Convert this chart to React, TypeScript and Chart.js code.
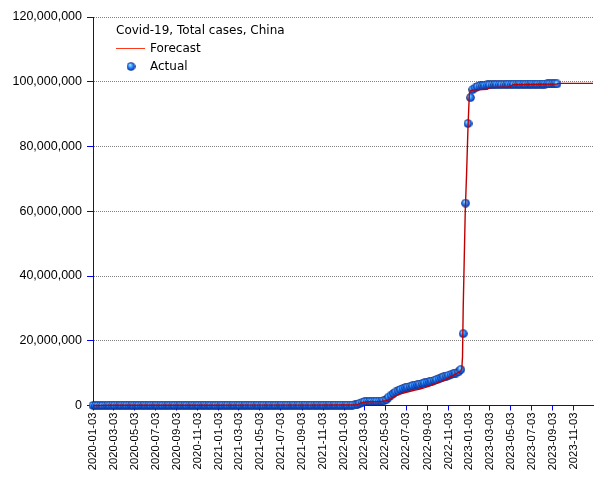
import React, { useEffect, useRef } from 'react';
import { Chart, registerables } from 'chart.js';

Chart.register(...registerables);

// ---------- data ----------
const legendTitle = 'Covid-19, Total cases, China';
const forecastLabel = 'Forecast';
const actualLabel = 'Actual';

const axisStart = '2020-01-03';
const axisEnd = '2023-12-29';

// Actual: weekly observations starting at actualStart
const actualStart = '2020-01-03';
const actualStepDays = 7;
const actualValues = [
  0, 41, 62, 881, 11821, 34598, 66576, 75569, 79394, 80711,
  81021, 81300, 82078, 82802, 83369, 84149, 84311, 84373, 84416, 84484,
  84525, 84547, 84614, 84659, 84735, 84969, 85058, 85314, 85921, 87489,
  88468, 89104, 89446, 89788, 90045, 90323, 90618, 90865, 91151, 91500,
  91773, 92045, 92358, 92685, 93058, 93445, 93834, 94265, 94683, 95120,
  95604, 96062, 96673, 97398, 98256, 99323, 100194, 100836, 101273, 101553,
  101783, 101968, 102161, 102368, 102562, 102770, 102984, 103194, 103388, 103568,
  103804, 104112, 104650, 108950, 111683, 113460, 114637, 115455, 116120, 117150,
  118478, 119611, 120627, 121404, 122075, 122720, 123432, 124201, 124907, 125638,
  126304, 127007, 127792, 128624, 129469, 130358, 131201, 132032, 132913, 133814,
  134772, 135830, 136987, 138231, 139583, 141296, 143658, 146988, 151213, 160000,
  380000, 700000, 980000, 1150000, 1220000, 1260000, 1290000, 1310000, 1330000, 1350000,
  1380000, 1450000, 1800000, 2600000, 3200000, 3750000, 4200000, 4550000, 4950000, 5250000,
  5500000, 5700000, 5900000, 6100000, 6300000, 6450000, 6600000, 6800000, 6950000, 7150000,
  7350000, 7550000, 7750000, 7950000, 8250000, 8550000, 8850000, 9100000, 9350000, 9600000,
  9800000, 10000000, 10400000, 11100000, 22200000, 62500000, 87100000, 95100000, 97600000, 98100000,
  98500000, 98700000, 98800000, 98900000, 99000000, 99050000, 99100000, 99120000, 99140000, 99160000,
  99180000, 99190000, 99200000, 99210000, 99220000, 99230000, 99240000, 99250000, 99255000, 99260000,
  99265000, 99270000, 99275000, 99280000, 99285000, 99290000, 99295000, 99300000, 99305000, 99310000,
  99315000, 99320000, 99325000, 99330000,
];

const forecastDates = [
  '2020-01-03', '2020-01-24', '2020-02-07', '2020-02-21', '2020-03-20', '2020-06-26',
  '2020-09-25', '2020-12-25', '2021-03-26', '2021-06-25', '2021-09-24', '2021-12-24',
  '2022-02-04', '2022-02-11', '2022-02-18', '2022-02-25', '2022-03-04', '2022-03-18',
  '2022-04-22', '2022-05-06', '2022-05-13', '2022-05-20', '2022-05-27', '2022-06-03',
  '2022-06-17', '2022-07-01', '2022-07-15', '2022-07-29', '2022-08-12', '2022-08-26',
  '2022-09-09', '2022-09-23', '2022-10-07', '2022-10-21', '2022-11-04', '2022-11-18',
  '2022-12-02', '2022-12-09', '2022-12-12', '2022-12-14', '2022-12-16', '2022-12-19',
  '2022-12-22', '2022-12-26', '2022-12-30', '2023-01-03', '2023-01-06', '2023-01-13',
  '2023-02-24', '2023-03-03', '2023-04-28', '2023-05-12', '2023-09-15', '2023-09-22',
  '2023-12-29',
];
const forecastValues = [
  0, 900, 30000, 74000, 81000, 84700,
  90600, 96000, 102000, 111000, 122000, 137000,
  155000, 250000, 550000, 850000, 1050000, 1150000,
  1250000, 1450000, 1800000, 2100000, 2600000, 3000000,
  3600000, 4000000, 4400000, 4750000, 5100000, 5500000,
  6000000, 6600000, 7200000, 7700000, 8600000, 9300000,
  10200000, 10600000, 11500000, 15000000, 30000000, 45000000,
  60000000, 72000000, 86000000, 96500000, 97100000, 97400000,
  97700000, 98200000, 98400000, 99100000, 99300000, 99500000,
  99500000,
];

const xTickLabels = [
  '2020-01-03', '2020-03-03', '2020-05-03', '2020-07-03', '2020-09-03', '2020-11-03',
  '2021-01-03', '2021-03-03', '2021-05-03', '2021-07-03', '2021-09-03', '2021-11-03',
  '2022-01-03', '2022-03-03', '2022-05-03', '2022-07-03', '2022-09-03', '2022-11-03',
  '2023-01-03', '2023-03-03', '2023-05-03', '2023-07-03', '2023-09-03', '2023-11-03',
];
const yTickValues = [0, 20000000, 40000000, 60000000, 80000000, 100000000, 120000000];

// ---------- helpers ----------
const DAY_MS = 86400000;
const toDay = (s: string) =>
  Math.round((Date.parse(s + 'T00:00:00Z') - Date.parse(axisStart + 'T00:00:00Z')) / DAY_MS);

function makeSphere(size: number): HTMLCanvasElement {
  const c = document.createElement('canvas');
  c.width = size;
  c.height = size;
  const g = c.getContext('2d')!;
  const r = size / 2;
  const grad = g.createRadialGradient(r * 0.75, r * 0.6, 0, r * 1.05, r * 1.05, r * 1.05);
  grad.addColorStop(0, '#e6ffff');
  grad.addColorStop(0.22, '#66c4ff');
  grad.addColorStop(0.55, '#1e78f5');
  grad.addColorStop(0.82, '#0a36b0');
  grad.addColorStop(1, '#000428');
  g.fillStyle = grad;
  g.beginPath();
  g.arc(r, r, r - 0.2, 0, Math.PI * 2);
  g.fill();
  return c;
}

export default function App() {
  const ref = useRef<HTMLCanvasElement | null>(null);

  useEffect(() => {
    if (!ref.current) return;
    const sphere = makeSphere(9);
    const xTickDays = xTickLabels.map(toDay);
    const startOffset = toDay(actualStart);

    const legendPlugin = {
      id: 'customLegend',
      afterDraw(chart: any) {
        const ctx = chart.ctx;
        ctx.save();
        ctx.fillStyle = '#000';
        ctx.font = '12px "DejaVu Sans"';
        ctx.textBaseline = 'middle';
        ctx.textAlign = 'left';
        ctx.fillText(legendTitle, 116, 31);
        ctx.strokeStyle = '#ff3a1a';
        ctx.lineWidth = 1;
        ctx.beginPath();
        ctx.moveTo(116, 48.5);
        ctx.lineTo(145, 48.5);
        ctx.stroke();
        ctx.fillText(forecastLabel, 150, 49);
        ctx.drawImage(sphere, 126.5, 62);
        ctx.fillText(actualLabel, 150, 67);
        ctx.restore();
      },
    };

    const chart = new Chart(ref.current, {
      type: 'line',
      data: {
        datasets: [
          {
            label: forecastLabel,
            data: forecastDates.map((d, i) => ({ x: toDay(d), y: forecastValues[i] })),
            borderColor: '#c00000',
            backgroundColor: '#c00000',
            borderWidth: 1.4,
            pointRadius: 0,
            tension: 0,
            clip: false as any,
          },
          {
            label: actualLabel,
            data: actualValues.map((v, i) => ({ x: startOffset + i * actualStepDays, y: v })),
            showLine: false,
            pointStyle: sphere as any,
            pointRadius: 4.5,
            clip: false as any,
          },
        ],
      },
      options: {
        animation: false,
        responsive: true,
        maintainAspectRatio: false,
        layout: { padding: { top: 17, right: 12, left: 0, bottom: 0 } },
        plugins: {
          legend: { display: false },
          tooltip: { enabled: false },
        },
        scales: {
          x: {
            type: 'linear',
            min: 0,
            max: toDay(axisEnd),
            afterBuildTicks: (s: any) => {
              s.ticks = xTickDays.map((v) => ({ value: v }));
            },
            afterFit: (s: any) => {
              s.height = 74.5;
            },
            border: { display: true, color: '#0000ff', width: 1 },
            grid: {
              drawOnChartArea: false,
              drawTicks: true,
              tickLength: 5,
              tickColor: '#0000ff',
              tickWidth: 1,
            },
            ticks: {
              autoSkip: false,
              maxRotation: 90,
              minRotation: 90,
              padding: 2,
              color: '#000',
              font: { family: 'Liberation Sans', size: 11.3 },
              callback: (_v: any, i: number) => xTickLabels[i],
            },
          },
          y: {
            type: 'linear',
            min: 0,
            max: 120000000,
            afterBuildTicks: (s: any) => {
              s.ticks = yTickValues.map((v) => ({ value: v }));
            },
            afterFit: (s: any) => {
              s.width = 93;
            },
            border: { display: true, color: '#0000ff', width: 1, dash: [1, 1] },
            grid: {
              color: '#808080',
              lineWidth: 1,
              drawTicks: true,
              tickLength: 6,
              tickColor: '#0000ff',
              tickWidth: 1,
            },
            ticks: {
              color: '#000',
              padding: 5,
              font: { family: 'Liberation Sans', size: 12.5 },
              callback: (v: any) => Number(v).toLocaleString('en-US'),
            },
          },
        },
      },
      plugins: [legendPlugin],
    } as any);

    return () => chart.destroy();
  }, []);

  return (
    <div style={{ position: 'fixed', left: 0, top: 0, width: 605, height: 480, background: '#fff' }}>
      <canvas ref={ref} />
    </div>
  );
}
